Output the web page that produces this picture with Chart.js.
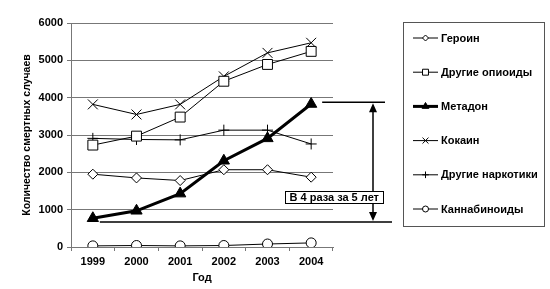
<!DOCTYPE html>
<html>
<head>
<meta charset="utf-8">
<script src="https://cdn.jsdelivr.net/npm/chart.js@4"></script>
<style>
  html, body { margin: 0; padding: 0; background: #fff; }
  #wrap { width: 550px; height: 289px; position: relative; }
</style>
</head>
<body>
<div id="wrap"><canvas id="chart"></canvas></div>
<script>
// --- data ---
const years = ['1999', '2000', '2001', '2002', '2003', '2004'];
const heroin = [1950, 1850, 1780, 2070, 2070, 1870];
const otherOpioids = [2730, 2970, 3480, 4440, 4890, 5240];
const methadone = [770, 970, 1430, 2310, 2910, 3830];
const cocaine = [3820, 3550, 3820, 4570, 5200, 5470];
const otherDrugs = [2910, 2880, 2870, 3130, 3130, 2760];
const cannabinoids = [30, 40, 30, 40, 80, 110];
const yTicks = [0, 1000, 2000, 3000, 4000, 5000, 6000];
const growthNote = 'В 4 раза за 5 лет';
const growthLevels = [670, 3880]; // bracket from the 1999 level to the 2004 level

const FONT = 'Arial, "Liberation Sans", sans-serif';

function series(label, data, style, radius, fill, width) {
    return {
        label: label,
        data: data,
        borderColor: '#000',
        borderWidth: width || 1,
        pointStyle: style,
        pointRadius: radius,
        pointHoverRadius: radius,
        pointBackgroundColor: fill || '#fff',
        pointBorderColor: '#000',
        pointBorderWidth: 1,
        tension: 0
    };
}

// legend box on the right
const boxLegend = {
    id: 'boxLegend',
    afterDraw(chart) {
        const ctx = chart.ctx;
        ctx.save();
        ctx.strokeStyle = '#555';
        ctx.lineWidth = 1;
        ctx.strokeRect(403.5, 22.5, 141, 204);
        ctx.font = 'bold 11px ' + FONT;
        ctx.textBaseline = 'middle';
        ctx.fillStyle = '#000';
        chart.data.datasets.forEach((ds, i) => {
            const y = 38 + i * 34.2;
            ctx.strokeStyle = '#000';
            ctx.lineWidth = ds.borderWidth;
            ctx.beginPath();
            ctx.moveTo(413, y);
            ctx.lineTo(438, y);
            ctx.stroke();
            ctx.lineWidth = 1;
            ctx.fillStyle = ds.pointBackgroundColor;
            Chart.helpers.drawPoint(ctx, {
                pointStyle: ds.pointStyle,
                radius: ds.pointRadius * 0.6,
                borderWidth: 1
            }, 425.5, y);
            ctx.fillStyle = '#000';
            ctx.fillText(ds.label, 441, y + 0.5);
        });
        ctx.restore();
    }
};

// growth bracket: two levels, double arrow and a label
const growthBracket = {
    id: 'growthBracket',
    afterDatasetsDraw(chart) {
        const ctx = chart.ctx;
        const x = chart.scales.x, y = chart.scales.y;
        const yLow = y.getPixelForValue(growthLevels[0]);
        const yHigh = y.getPixelForValue(growthLevels[1]);
        const xStart = x.getPixelForValue(0) + 7;
        const xEnd = chart.chartArea.right + 59;
        const xArrow = chart.chartArea.right + 40;
        ctx.save();
        ctx.strokeStyle = '#000';
        ctx.fillStyle = '#000';
        ctx.lineWidth = 1.5;
        ctx.beginPath();
        ctx.moveTo(xStart, yLow);
        ctx.lineTo(xEnd, yLow);
        ctx.moveTo(x.getPixelForValue(5) + 11, yHigh);
        ctx.lineTo(xEnd - 7, yHigh);
        ctx.moveTo(xArrow, yHigh + 8);
        ctx.lineTo(xArrow, yLow - 8);
        ctx.stroke();
        // arrow heads
        ctx.beginPath();
        ctx.moveTo(xArrow, yHigh + 1);
        ctx.lineTo(xArrow - 4, yHigh + 10);
        ctx.lineTo(xArrow + 4, yHigh + 10);
        ctx.closePath();
        ctx.moveTo(xArrow, yLow - 1);
        ctx.lineTo(xArrow - 4, yLow - 10);
        ctx.lineTo(xArrow + 4, yLow - 10);
        ctx.closePath();
        ctx.fill();
        // label box
        ctx.font = 'bold 11px ' + FONT;
        const w = ctx.measureText(growthNote).width + 8;
        const bx = xArrow + 10 - w, by = yLow - 31;
        ctx.fillStyle = '#fff';
        ctx.fillRect(bx, by, w, 12);
        ctx.lineWidth = 1;
        ctx.strokeStyle = '#000';
        ctx.strokeRect(Math.round(bx) + 0.5, Math.round(by) + 0.5, Math.round(w), 12);
        ctx.fillStyle = '#000';
        ctx.textBaseline = 'middle';
        ctx.fillText(growthNote, bx + 4, by + 6.5);
        ctx.restore();
    }
};

new Chart(document.getElementById('chart'), {
    type: 'line',
    data: {
        labels: years,
        datasets: [
            series('Героин', heroin, 'rectRot', 5),
            series('Другие опиоиды', otherOpioids, 'rect', 7),
            series('Метадон', methadone, 'triangle', 6.5, '#000', 3),
            series('Кокаин', cocaine, 'crossRot', 7),
            series('Другие наркотики', otherDrugs, 'cross', 5.5),
            series('Каннабиноиды', cannabinoids, 'circle', 5)
        ]
    },
    options: {
        responsive: true,
        maintainAspectRatio: false,
        animation: false,
        events: [],
        layout: { padding: { left: 21, top: 23, right: 217, bottom: 0 } },
        plugins: {
            legend: { display: false },
            tooltip: { enabled: false }
        },
        scales: {
            x: {
                offset: true,
                grid: {
                    offset: true,
                    drawOnChartArea: false,
                    drawTicks: true,
                    tickLength: 4,
                    color: '#777'
                },
                border: { display: true, color: '#777', width: 1 },
                ticks: {
                    color: '#000',
                    padding: 4,
                    font: { family: FONT, size: 11, weight: 'bold' }
                },
                title: {
                    display: true,
                    text: 'Год',
                    color: '#000',
                    padding: { top: 0, bottom: 4 },
                    font: { family: FONT, size: 11, weight: 'bold' }
                },
                afterFit(scale) { scale.height = 42; }
            },
            y: {
                min: 0,
                max: 6000,
                afterBuildTicks(scale) { scale.ticks = yTicks.map(v => ({ value: v })); },
                grid: {
                    color: '#777',
                    tickLength: 4,
                    drawTicks: true
                },
                border: { display: true, color: '#777', width: 1 },
                ticks: {
                    color: '#000',
                    padding: 4,
                    callback: v => String(v),
                    font: { family: FONT, size: 11, weight: 'bold' }
                },
                title: {
                    display: true,
                    text: 'Количество смертных случаев',
                    color: '#000',
                    padding: { top: 0, bottom: 4 },
                    font: { family: FONT, size: 10.5, weight: 'bold' }
                },
                afterFit(scale) { scale.width = 50; }
            }
        }
    },
    plugins: [boxLegend, growthBracket]
});
</script>
</body>
</html>
